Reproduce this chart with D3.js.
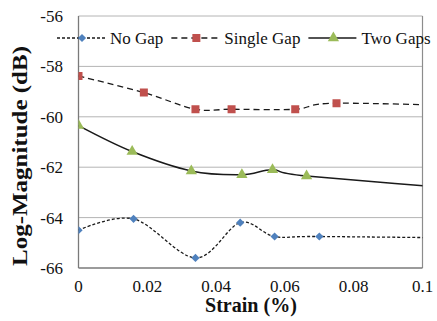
<!DOCTYPE html>
<html>
<head>
<meta charset="utf-8">
<script src="https://cdn.jsdelivr.net/npm/d3@7"></script>
<style>
  body { margin: 0; background: #fff; }
  svg text { font-family: "Times New Roman", "Liberation Serif", Tinos, serif; }
</style>
</head>
<body>
<svg id="chart"></svg>
<script>
// series data (last point of each sits past the axis end and gets clipped)
const noGapX = [0, 0.016, 0.034, 0.047, 0.057, 0.07, 0.12];
const noGapY = [-64.5, -64.05, -65.6, -64.2, -64.75, -64.75, -64.82];
const singleGapX = [0, 0.019, 0.034, 0.0445, 0.063, 0.075, 0.12];
const singleGapY = [-58.38, -59.04, -59.7, -59.7, -59.7, -59.46, -59.6];
const twoGapsX = [0, 0.0156, 0.0328, 0.0475, 0.0564, 0.0663, 0.12];
const twoGapsY = [-60.35, -61.38, -62.15, -62.3, -62.1, -62.35, -62.95];

const xTicks = [0, 0.02, 0.04, 0.06, 0.08, 0.1];
const yTicks = [-66, -64, -62, -60, -58, -56];
const seriesNames = ["No Gap", "Single Gap", "Two Gaps"];

const width = 437, height = 321;
const plotLeft = 78.5, plotRight = 422.5, plotTop = 16, plotBottom = 268;
const fontName = "Times New Roman";

const svg = d3.select("#chart").attr("width", width).attr("height", height);

const x = d3.scaleLinear().domain([0, 0.1]).range([plotLeft, plotRight]);
const y = d3.scaleLinear().domain([-66, -56]).range([plotBottom, plotTop]);

// gridlines
svg.append("g").selectAll("line")
    .data(yTicks.slice(1))
    .enter().append("line")
    .attr("x1", plotLeft).attr("x2", plotRight)
    .attr("y1", d => y(d)).attr("y2", d => y(d))
    .attr("stroke", "#b4b4b4").attr("stroke-width", 1);

// right border
svg.append("line")
    .attr("x1", plotRight).attr("x2", plotRight).attr("y1", plotTop).attr("y2", plotBottom)
    .attr("stroke", "#8c8c8c").attr("stroke-width", 1.2);

// axes lines
svg.append("line")
    .attr("x1", plotLeft).attr("x2", plotLeft).attr("y1", plotTop).attr("y2", plotBottom)
    .attr("stroke", "#7a7a7a").attr("stroke-width", 1.3);
svg.append("line")
    .attr("x1", plotLeft).attr("x2", plotRight).attr("y1", plotBottom).attr("y2", plotBottom)
    .attr("stroke", "#7a7a7a").attr("stroke-width", 1.3);

// tick labels
svg.append("g").selectAll("text")
    .data(yTicks)
    .enter().append("text")
    .attr("x", 63)
    .attr("y", d => y(d))
    .attr("dy", "0.35em")
    .attr("text-anchor", "end")
    .style("font-family", fontName)
    .style("font-size", "17px")
    .style("fill", "#111")
    .text(d => d);

svg.append("g").selectAll("text")
    .data(xTicks)
    .enter().append("text")
    .attr("x", d => x(d))
    .attr("y", 292)
    .attr("text-anchor", "middle")
    .style("font-family", fontName)
    .style("font-size", "17px")
    .style("fill", "#111")
    .text(d => d);

// axis titles
svg.append("text")
    .attr("x", 251).attr("y", 312)
    .attr("text-anchor", "middle")
    .attr("textLength", 92).attr("lengthAdjust", "spacingAndGlyphs")
    .style("font-family", fontName)
    .style("font-size", "20px").style("font-weight", "bold")
    .style("fill", "#111")
    .text("Strain (%)");

svg.append("text")
    .attr("transform", "translate(27,156) rotate(-90)")
    .attr("text-anchor", "middle")
    .attr("textLength", 220).attr("lengthAdjust", "spacingAndGlyphs")
    .style("font-family", fontName)
    .style("font-size", "20px").style("font-weight", "bold")
    .style("fill", "#111")
    .text("Log-Magnitude (dB)");

// clip for lines
svg.append("clipPath").attr("id", "plotClip")
    .append("rect")
    .attr("x", plotLeft).attr("y", plotTop - 10)
    .attr("width", plotRight - plotLeft).attr("height", plotBottom - plotTop + 20);

const series = [
    { name: seriesNames[0], xs: noGapX, ys: noGapY, dash: "3,2", width: 1.3, color: "#4f81bd", shape: d3.symbolSquare, size: 34, rot: 45 },
    { name: seriesNames[1], xs: singleGapX, ys: singleGapY, dash: "6,4", width: 1.3, color: "#c0504d", shape: d3.symbolSquare, size: 64, rot: 0 },
    { name: seriesNames[2], xs: twoGapsX, ys: twoGapsY, dash: null, width: 1.6, color: "#9bbb59", shape: d3.symbolTriangle, size: 55, rot: 0 }
];

const line = d3.line()
    .x(d => x(d[0]))
    .y(d => y(d[1]))
    .curve(d3.curveCatmullRom.alpha(0));

const plot = svg.append("g").attr("clip-path", "url(#plotClip)");

series.forEach(s => {
    const pts = s.xs.map((v, i) => [v, s.ys[i]]);
    plot.append("path")
        .datum(pts)
        .attr("d", line)
        .attr("fill", "none")
        .attr("stroke", "#1a1a1a")
        .attr("stroke-width", s.width)
        .attr("stroke-dasharray", s.dash);
    plot.selectAll(null)
        .data(pts)
        .enter().append("path")
        .attr("d", d3.symbol().type(s.shape).size(s.size))
        .attr("transform", d => `translate(${x(d[0])},${y(d[1])}) rotate(${s.rot})`)
        .attr("fill", s.color);
});

// legend
const legend = svg.append("g");
let lx = 57;
const ly = 38;
series.forEach(s => {
    legend.append("line")
        .attr("x1", lx).attr("x2", lx + 48)
        .attr("y1", ly).attr("y2", ly)
        .attr("stroke", "#1a1a1a")
        .attr("stroke-width", s.width)
        .attr("stroke-dasharray", s.dash);
    legend.append("path")
        .attr("d", d3.symbol().type(s.shape).size(s.size))
        .attr("transform", `translate(${lx + 25},${ly}) rotate(${s.rot})`)
        .attr("fill", s.color);
    const t = legend.append("text")
        .attr("x", lx + 53).attr("y", ly)
        .attr("dy", "0.33em")
        .style("font-family", fontName)
        .style("font-size", "17px")
        .style("fill", "#111")
        .text(s.name);
    lx += 53 + t.node().getComputedTextLength() + 8;
});
</script>
</body>
</html>
